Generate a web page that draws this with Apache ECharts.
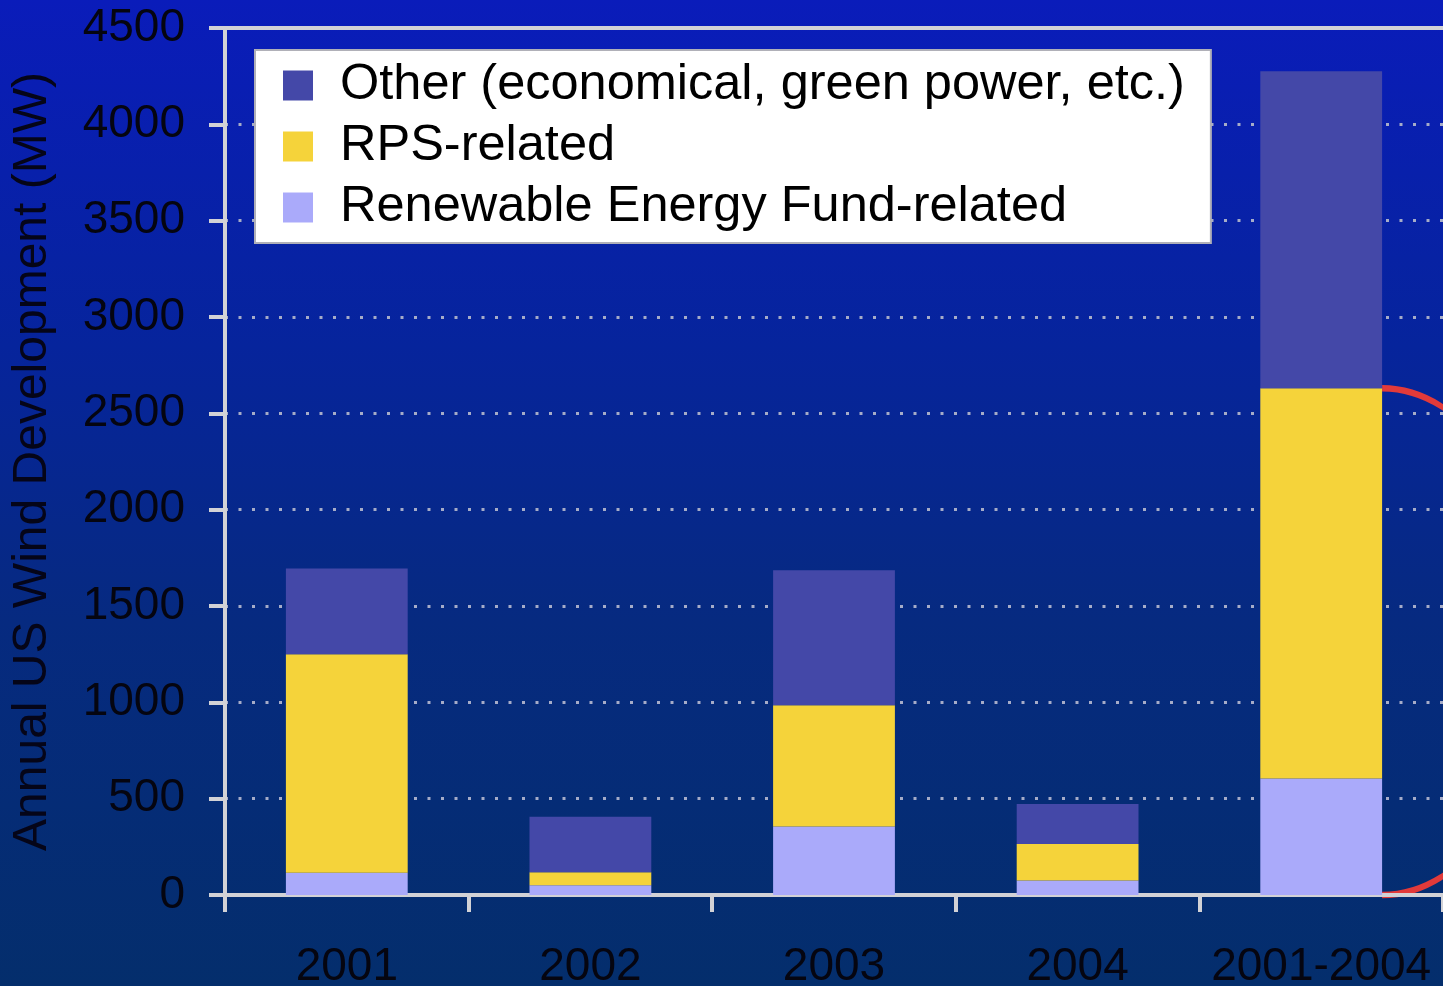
<!DOCTYPE html>
<html>
<head>
<meta charset="utf-8">
<title>Annual US Wind Development</title>
<script src="https://cdn.jsdelivr.net/npm/echarts@6/dist/echarts.min.js"></script>
<style>
  html, body { margin: 0; padding: 0; }
  #wind-chart {
    width: 1443px;
    height: 986px;
    background: linear-gradient(to bottom, #0a1cba 0%, #06249c 35%, #062a80 63%, #042e6c 100%);
  }
</style>
</head>
<body>
<div id="wind-chart"></div>
<script>
const categories = ["2001", "2002", "2003", "2004", "2001-2004"];
const fundRelated = [115, 50, 355, 75, 605];
const rpsRelated = [1135, 68, 630, 190, 2025];
const otherDevelopment = [445, 288, 700, 207, 1645];
const yTicks = { min: 0, max: 4500, step: 500 };

const seriesNames = {
  other: "Other (economical, green power, etc.)",
  rps: "RPS-related",
  fund: "Renewable Energy Fund-related",
};

const fontFamily = "'Liberation Sans', Arial, sans-serif";
const axisGray = "#d2d2d6";

const chart = echarts.init(document.getElementById("wind-chart"));

function barSeries(name, data, color, extra) {
  return Object.assign(
    {
      name,
      type: "bar",
      stack: "total",
      barWidth: "50%",
      data,
      itemStyle: { color },
      emphasis: { disabled: true },
    },
    extra || {},
  );
}

chart.setOption({
  animation: false,
  backgroundColor: "transparent",
  textStyle: { fontFamily },
  grid: { left: 225, right: 0, top: 28, bottom: 91, outerBoundsMode: "none", containLabel: false },
  legend: {
    orient: "vertical",
    left: 255,
    top: 50,
    data: [seriesNames.other, seriesNames.rps, seriesNames.fund],
    icon: "rect",
    itemWidth: 30,
    itemHeight: 30,
    itemGap: 10,
    padding: [10, 26, 10, 28],
    backgroundColor: "#ffffff",
    borderColor: "#b0b0b8",
    borderWidth: 2,
    borderRadius: 0,
    textStyle: {
      fontFamily,
      fontSize: 50.5,
      lineHeight: 50,
      color: "#000000",
      padding: [0, 0, 0, 22],
    },
  },
  xAxis: {
    type: "category",
    data: categories,
    axisLine: { lineStyle: { color: axisGray, width: 4 } },
    axisTick: { show: true, interval: 0, length: 17, lineStyle: { color: axisGray, width: 4 } },
    axisLabel: { interval: 0, fontFamily, fontSize: 46, color: "#050510", margin: 49 },
  },
  yAxis: {
    type: "value",
    min: yTicks.min,
    max: yTicks.max,
    interval: yTicks.step,
    name: "Annual US Wind Development (MW)",
    nameLocation: "middle",
    nameGap: 168,
    nameTextStyle: { fontFamily, fontSize: 48, color: "#050518" },
    axisLine: { show: true, lineStyle: { color: axisGray, width: 4 } },
    axisTick: { show: true, length: 16, lineStyle: { color: axisGray, width: 4 } },
    axisLabel: {
      fontFamily,
      fontSize: 46,
      color: "#050510",
      margin: 40,
      formatter: (v) => String(v),
    },
    splitLine: {
      show: true,
      lineStyle: { color: "#a6acc8", width: 3, type: [3, 10.5] },
    },
  },
  series: [
    barSeries(seriesNames.fund, fundRelated, "#aaaafa"),
    barSeries(seriesNames.rps, rpsRelated, "#f5d33a"),
    barSeries(seriesNames.other, otherDevelopment, "#4448a8", {
      markLine: {
        silent: true,
        symbol: "none",
        label: { show: false },
        lineStyle: { color: axisGray, width: 4, type: "solid" },
        data: [{ yAxis: yTicks.max }],
      },
    }),
  ],
});

// red bracket next to the combined bar (RE fund + RPS part)
const last = categories.length - 1;
const lowerTop = fundRelated[last] + rpsRelated[last];
const topPx = chart.convertToPixel({ gridIndex: 0 }, [last, lowerTop]);
const basePx = chart.convertToPixel({ gridIndex: 0 }, [last, 0]);
const prevPx = chart.convertToPixel({ gridIndex: 0 }, [last - 1, 0]);
const barRight = topPx[0] + (topPx[0] - prevPx[0]) * 0.25;
const ry = (basePx[1] - topPx[1]) / 2;
const rx = 160;

chart.setOption({
  graphic: [
    {
      type: "arc",
      silent: true,
      shape: {
        cx: barRight,
        cy: topPx[1] + ry,
        r: ry,
        startAngle: -Math.PI / 2,
        endAngle: Math.PI / 2,
        clockwise: true,
      },
      originX: barRight,
      originY: topPx[1] + ry,
      scaleX: rx / ry,
      style: { stroke: "#e23a3a", lineWidth: 4 / Math.max(rx / ry, 0.2), fill: null },
    },
  ],
});

window.addEventListener("resize", () => chart.resize());
</script>
</body>
</html>
